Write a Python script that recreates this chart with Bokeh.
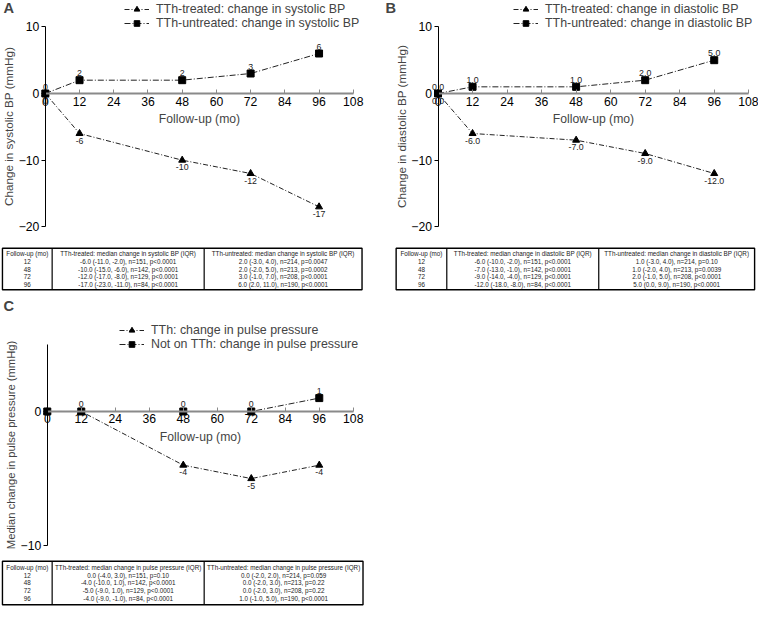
from bokeh.plotting import figure
from bokeh.models import Range1d, FixedTicker, Legend, LegendItem, ColumnDataSource, Label
from bokeh.layouts import column, row
from bokeh.embed import file_html
from bokeh.resources import INLINE
from bokeh.core.properties import value

# ---------------- data ----------------
months = [0, 12, 48, 72, 96]
x_ticks = [0, 12, 24, 36, 48, 60, 72, 84, 96, 108]

sys_treated = [0, -6, -10, -12, -17]
sys_untreated = [0, 2, 2, 3, 6]
sys_treated_lbl = ["0", "-6", "-10", "-12", "-17"]
sys_untreated_lbl = ["0", "2", "2", "3", "6"]

dia_treated = [0, -6, -7, -9, -12]
dia_untreated = [0, 1, 1, 2, 5]
dia_treated_lbl = ["0.0", "-6.0", "-7.0", "-9.0", "-12.0"]
dia_untreated_lbl = ["0.0", "1.0", "1.0", "2.0", "5.0"]

pp_treated = [0, 0, -4, -5, -4]
pp_untreated = [0, 0, 0, 0, 1]
pp_treated_lbl = ["", "", "-4", "-5", "-4"]
pp_untreated_lbl = ["", "0", "0", "0", "1"]

legend_sys = ["TTh-treated: change in systolic BP", "TTh-untreated: change in systolic BP"]
legend_dia = ["TTh-treated: change in diastolic BP", "TTh-untreated: change in diastolic BP"]
legend_pp = ["TTh: change in pulse pressure", "Not on TTh: change in pulse pressure"]

table_months = ["12", "48", "72", "96"]
sys_hdr = ["Follow-up (mo)", "TTh-treated: median change in systolic BP (IQR)",
           "TTh-untreated: median change in systolic BP (IQR)"]
sys_tbl_treated = ["-6.0 (-11.0, -2.0), n=151, p<0.0001", "-10.0 (-15.0, -6.0), n=142, p<0.0001",
                   "-12.0 (-17.0, -8.0), n=129, p<0.0001", "-17.0 (-23.0, -11.0), n=84, p<0.0001"]
sys_tbl_untreated = ["2.0 (-3.0, 4.0), n=214, p=0.0047", "2.0 (-2.0, 5.0), n=213, p=0.0002",
                     "3.0 (-1.0, 7.0), n=208, p<0.0001", "6.0 (2.0, 11.0), n=190, p<0.0001"]
dia_hdr = ["Follow-up (mo)", "TTh-treated: median change in diastolic BP (IQR)",
           "TTh-untreated: median change in diastolic BP (IQR)"]
dia_tbl_treated = ["-6.0 (-10.0, -2.0), n=151, p<0.0001", "-7.0 (-13.0, -1.0), n=142, p<0.0001",
                   "-9.0 (-14.0, -4.0), n=129, p<0.0001", "-12.0 (-18.0, -8.0), n=84, p<0.0001"]
dia_tbl_untreated = ["1.0 (-3.0, 4.0), n=214, p=0.10", "1.0 (-2.0, 4.0), n=213, p=0.0039",
                     "2.0 (-1.0, 5.0), n=208, p<0.0001", "5.0 (0.0, 9.0), n=190, p<0.0001"]
pp_hdr = ["Follow-up (mo)", "TTh-treated: median change in pulse pressure (IQR)",
          "TTh-untreated: median change in pulse pressure (IQR)"]
pp_tbl_treated = ["0.0 (-4.0, 3.0), n=151, p=0.10", "-4.0 (-10.0, 1.0), n=142, p<0.0001",
                  "-5.0 (-9.0, 1.0), n=129, p<0.0001", "-4.0 (-9.0, -1.0), n=84, p<0.0001"]
pp_tbl_untreated = ["0.0 (-2.0, 2.0), n=214, p=0.059", "0.0 (-2.0, 3.0), n=213, p=0.22",
                    "0.0 (-2.0, 3.0), n=208, p=0.22", "1.0 (-1.0, 5.0), n=190, p<0.0001"]

# ---------------- styling helpers ----------------
S = 0.975
FONT = "'Liberation Sans', Arial, sans-serif"


def s(v):
    return int(round(v * S))


def px(v):
    return "%.1fpx" % (v * S)


def make_chart(W, H, frame, yr, yticks, treated, untreated, tl, ul, leg, ylab, letter, leg_x, leg_rows_bottom,
               ylab_size=12):
    # frame = pixel box (left, top, right, bottom) of the axes inside the panel
    left, top, right, bottom = frame
    kx = (right - left) / 108.0
    ky = (bottom - top) / float(yr[1] - yr[0])
    xr = Range1d(-left / kx, 108 + (W - right) / kx)
    yrng = Range1d(yr[0] - (H - bottom) / ky, yr[1] + top / ky)
    p = figure(width=s(W), height=s(H), output_backend="svg", toolbar_location=None,
               x_range=xr, y_range=yrng, min_border=0)
    p.grid.visible = False
    p.outline_line_color = None
    p.background_fill_color = "white"

    xa = p.xaxis[0]
    xa.fixed_location = 0
    xa.bounds = (0, 108)
    xa.ticker = FixedTicker(ticks=x_ticks)
    xa.axis_line_color = "#8a8a8a"
    xa.axis_line_width = 2
    xa.major_tick_line_color = "#8a8a8a"
    xa.major_tick_in = 4
    xa.major_tick_out = 0
    xa.minor_tick_line_color = None
    xa.major_label_standoff = 3
    xa.major_label_text_font = FONT
    xa.major_label_text_font_size = px(12.5)
    xa.major_label_text_color = "black"
    xa.axis_label = "Follow-up (mo)"
    xa.axis_label_standoff = 3
    xa.axis_label_text_font = FONT
    xa.axis_label_text_font_size = px(12.5)
    xa.axis_label_text_font_style = "normal"

    ya = p.yaxis[0]
    ya.fixed_location = 0
    ya.bounds = (yr[0], yr[1])
    ya.ticker = FixedTicker(ticks=yticks)
    ya.axis_line_color = "black"
    ya.major_tick_line_color = "black"
    ya.major_tick_out = 4
    ya.major_tick_in = 0
    ya.minor_tick_line_color = None
    ya.major_label_standoff = 2
    ya.major_label_text_font = FONT
    ya.major_label_text_font_size = px(12.5)
    ya.major_label_text_color = "black"
    ya.axis_label = ylab
    ya.axis_label_standoff = 1
    ya.axis_label_text_font = FONT
    ya.axis_label_text_font_size = px(ylab_size)
    ya.axis_label_text_font_style = "normal"

    src_t = ColumnDataSource(dict(x=months, y=treated, lbl=tl))
    src_u = ColumnDataSource(dict(x=months, y=untreated, lbl=ul))

    lt = p.line("x", "y", source=src_t, line_color="#222222", line_width=1, line_dash="5 2 1 2")
    mt = p.scatter("x", "y", source=src_t, marker="triangle", size=s(7), fill_color="black", line_color="black")
    lu = p.line("x", "y", source=src_u, line_color="#222222", line_width=1, line_dash="6 2 1 2")
    mu = p.scatter("x", "y", source=src_u, marker="square", size=s(7.5), fill_color="black", line_color="black")

    p.text("x", "y", text="lbl", source=src_t, y_offset=s(4), text_align="center", text_baseline="top",
           text_font=value(FONT), text_font_size=px(9), text_color="#222222")
    p.text("x", "y", text="lbl", source=src_u, y_offset=-s(4), text_align="center", text_baseline="bottom",
           text_font=value(FONT), text_font_size=px(9), text_color="#222222")

    legend = Legend(items=[LegendItem(label=leg[0], renderers=[lt, mt]),
                           LegendItem(label=leg[1], renderers=[lu, mu])],
                    location=(s(leg_x), s(H - leg_rows_bottom)))
    legend.border_line_color = None
    legend.background_fill_alpha = 0
    legend.padding = 0
    legend.margin = 0
    legend.spacing = 0
    legend.glyph_width = s(26)
    legend.glyph_height = s(14)
    legend.label_height = s(14)
    legend.label_standoff = s(7)
    legend.label_text_font = FONT
    legend.label_text_font_size = px(12.7)
    legend.label_text_baseline = "middle"
    p.add_layout(legend)

    p.add_layout(Label(x=s(3), y=s(H - 15), x_units="screen", y_units="screen",
                       text=letter, text_font=FONT, text_font_size=px(15), text_font_style="bold"))
    return p


def make_table(W, H, box, dividers, hdr, c1, c2, c3):
    bl, bt, br, bb = box
    p = figure(width=s(W), height=s(H), output_backend="svg", toolbar_location=None,
               x_range=Range1d(0, W), y_range=Range1d(H, 0), min_border=0,
               x_axis_location=None, y_axis_location=None)
    p.grid.visible = False
    p.outline_line_color = None
    p.quad(left=[bl], right=[br], top=[bt], bottom=[bb], fill_color=None, line_color="black", line_width=1.4)
    p.segment(x0=dividers, y0=[bt] * len(dividers), x1=dividers, y1=[bb] * len(dividers),
              line_color="black", line_width=1.2)
    edges = [bl] + list(dividers) + [br]
    centers = [(edges[i] + edges[i + 1]) / 2 for i in range(3)]
    step = (bb - bt - 4) / 5.0
    ys = [bt + 2 + step * (i + 0.5) for i in range(5)]
    cols = [[hdr[0]] + list(c1), [hdr[1]] + list(c2), [hdr[2]] + list(c3)]
    for ci in range(3):
        src = ColumnDataSource(dict(x=[centers[ci]] * 5, y=ys, t=cols[ci]))
        p.text("x", "y", text="t", source=src, text_align="center", text_baseline="middle",
               text_font=value(FONT), text_font_size=px(6.5), text_color="#222222")
    return p


figA = make_chart(392, 246, (46, 27, 362, 232), (-20, 10), [-20, -10, 0, 10],
                  sys_treated, sys_untreated, sys_treated_lbl, sys_untreated_lbl, legend_sys,
                  "Change in systolic BP (mmHg)", "A", 127, 31)
figB = make_chart(386, 246, (57, 27, 376, 232), (-20, 10), [-20, -10, 0, 10],
                  dia_treated, dia_untreated, dia_treated_lbl, dia_untreated_lbl, legend_dia,
                  "Change in diastolic BP (mmHg)", "B", 134, 31)
tabA = make_table(392, 60, (2, 8, 371, 51), [53, 209], sys_hdr, table_months, sys_tbl_treated, sys_tbl_untreated)
tabB = make_table(386, 60, (14, 8, 382, 51), [66, 222], dia_hdr, table_months, dia_tbl_treated, dia_tbl_untreated)
figC = make_chart(392, 260, (48, 47, 362, 253), (-10, 5), [-10, 0],
                  pp_treated, pp_untreated, pp_treated_lbl, pp_untreated_lbl, legend_pp,
                  "Median change in pulse pressure (mmHg)", "C", 122, 54, ylab_size=11.5)
tabC = make_table(392, 61, (2, 9, 372, 54), [53, 209], pp_hdr, table_months, pp_tbl_treated, pp_tbl_untreated)

layout = column(row(figA, figB), row(tabA, tabB), figC, tabC, spacing=0)

open("out.html", "w").write(file_html(layout, INLINE))
